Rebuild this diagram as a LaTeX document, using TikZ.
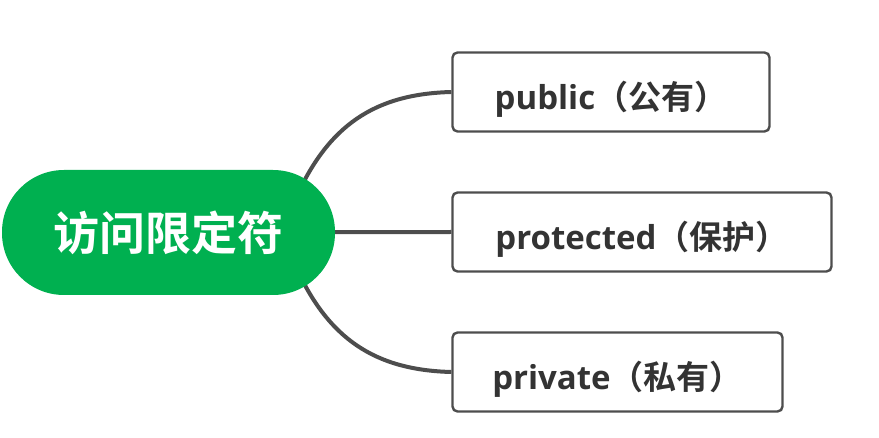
\documentclass[tikz,border=0pt]{standalone}
\usepackage{fontspec}
\setmainfont{Noto Sans CJK SC}
\newfontfamily\cjkb{Noto Sans CJK SC Bold}
\newfontfamily\latb{Open Sans Bold}
\usetikzlibrary{calc}
\definecolor{mmgreen}{HTML}{00B050}
\definecolor{mmline}{HTML}{4D4D4D}
\definecolor{mmtext}{HTML}{333333}
\pgfdeclarelayer{bg}
\pgfsetlayers{bg,main}
\newcommand{\lat}[1]{{\latb #1}}
\begin{document}
\begin{tikzpicture}[x=1pt,y=-1pt,
  rootbox/.style={fill=mmgreen,draw=none,rounded corners=62pt,minimum width=333pt,minimum height=125pt,inner sep=0pt,text=white,font=\cjkb\fontsize{46}{50}\selectfont},
  leafbox/.style={fill=white,draw=mmline,line width=2.4pt,rounded corners=5pt,minimum height=79pt,inner sep=0pt,text height=35.5pt,text depth=0pt,text=mmtext,font=\cjkb\fontsize{33}{38}\selectfont},
  conn/.style={draw=mmline,line width=4pt}]
\useasboundingbox (0,0) rectangle (879,438);
\node[rootbox] (g) at (168.5,232.5) {访问限定符};
\node[leafbox,minimum width=317pt] (pub) at (611,92) {\lat{public}（公有）};
\node[leafbox,minimum width=379pt] (pro) at (642,232) {\lat{protected}（保护）};
\node[leafbox,minimum width=330pt] (pri) at (617.5,372) {\lat{private}（私有）};
\begin{pgfonlayer}{bg}
\draw[conn] ($(g.center)+(126.5,-32.5)$) .. controls (328,125) and (375,94) .. (pub.west);
\draw[conn] (g.center) -- (pro.west);
\draw[conn] ($(g.center)+(126.5,32.5)$) .. controls (328,339) and (375,370) .. (pri.west);
\end{pgfonlayer}
\end{tikzpicture}
\end{document}
